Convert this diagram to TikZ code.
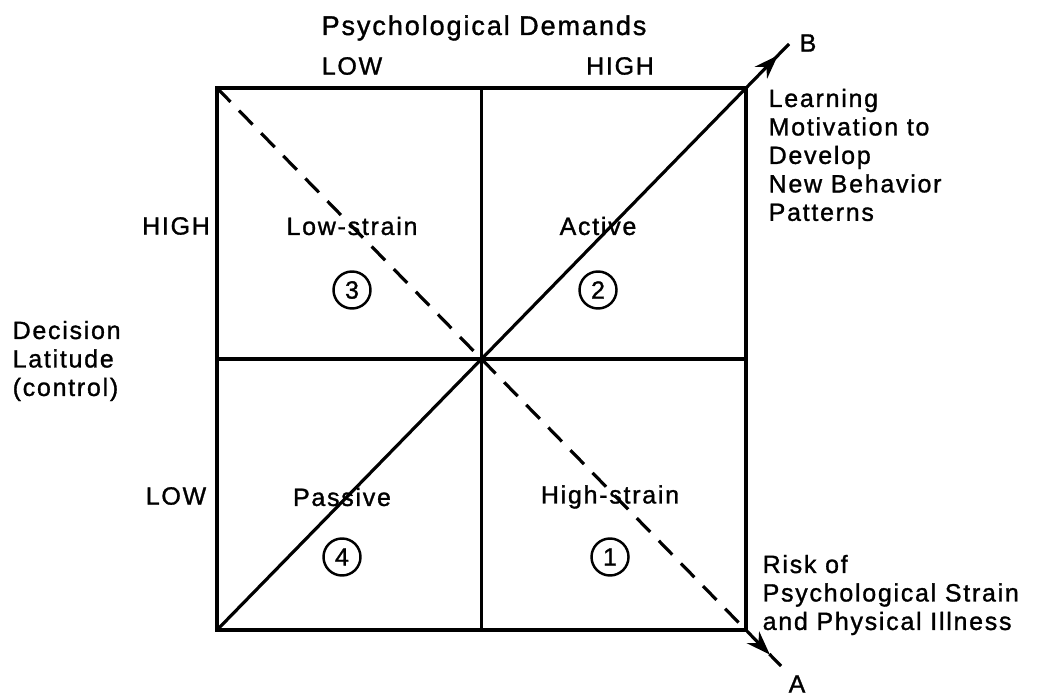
\documentclass[tikz,border=0pt]{standalone}
\usepackage{fontspec}
\setsansfont{Liberation Sans}[LetterSpace=7,FakeBold=1.2]
\usetikzlibrary{arrows.meta,decorations.markings}
\tikzset{
  quadr/.style={line width=0.9pt},
  diag/.style={line width=0.9pt,postaction={decorate},
    decoration={markings,mark=at position -0.16cm with {\arrow{Stealth[length=2.4mm,width=1.7mm]}}}},
  diagd/.style={diag,dash pattern=on 5.5pt off 3.5pt},
  lab/.style={font=\sffamily\fontsize{7.1}{8.1}\selectfont,inner sep=0pt},
  txt/.style={lab,align=left,anchor=west},
  num/.style={lab,draw,circle,minimum size=3.7mm,line width=0.7pt},
}
\begin{document}
\begin{tikzpicture}
  \useasboundingbox (0,0) rectangle (10.4,6.96);
  % square and quadrants
  \coordinate (bl) at (2.17,0.66);
  \coordinate (tr) at (7.46,6.08);
  \coordinate (tl) at (2.17,6.08);
  \coordinate (br) at (7.46,0.66);
  \coordinate (c) at (4.815,3.37);
  \coordinate (mt) at (c |- tr); \coordinate (mb) at (c |- bl);
  \coordinate (ml) at (c -| bl); \coordinate (mr) at (c -| tr);
  \coordinate (B) at (7.89,6.52);
  \coordinate (A) at (7.81,0.30);
  \draw[quadr] (bl) rectangle (tr);
  \draw[quadr] (mb) -- (mt);
  \draw[quadr] (ml) -- (mr);
  % diagonals
  \draw[diag] (bl) -- (B);
  \draw[diagd] (tl) -- (A);
  \node[lab] (labB) at (8.08,6.53) {B};
  \node[lab] (labA) at (7.97,0.12) {A};
  % axes
  \node[lab,font=\sffamily\fontsize{7.7}{9}\selectfont] (psy) at (4.84,6.68) {Psychological Demands};
  \node[lab] (lowx) at (3.52,6.30) {LOW};
  \node[lab] (highx) at (6.20,6.30) {HIGH};
  \node[lab] (highy) at (1.76,4.70) {HIGH};
  \node[lab] (lowy) at (1.76,2.00) {LOW};
  \node[txt] (dec) at (0.12,3.35) {Decision\\Latitude\\(control)};
  % quadrants
  \node[lab] (lows) at (3.52,4.70) {Low-strain};
  \node[num] (n3) at (3.52,4.06) {3};
  \node[lab] (act) at (5.98,4.70) {Active};
  \node[num] (n2) at (5.98,4.06) {2};
  \node[lab] (pas) at (3.42,1.99) {Passive};
  \node[num] (n4) at (3.42,1.39) {4};
  \node[lab] (highs) at (6.10,1.99) {High-strain};
  \node[num] (n1) at (6.10,1.39) {1};
  % outcomes
  \node[txt] (learn) at (7.68,5.41) {Learning\\Motivation to\\Develop\\New Behavior\\Patterns};
  \node[txt] (risk) at (7.62,1.01) {Risk of\\Psychological Strain\\and Physical Illness};
\end{tikzpicture}
\end{document}
